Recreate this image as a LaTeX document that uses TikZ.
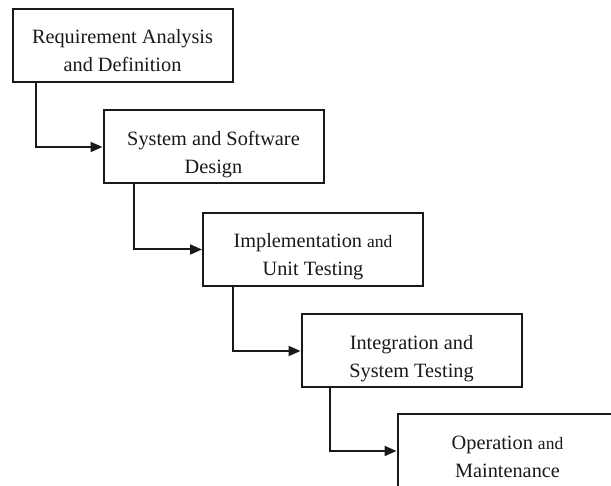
\documentclass[tikz,border=0pt]{standalone}
\usepackage{fontspec}
\setmainfont{Liberation Serif}
\usetikzlibrary{arrows.meta}
\begin{document}
\begin{tikzpicture}[x=1pt,y=-1pt,
  phase/.style={draw=black!90,line width=2pt,fill=white,
    minimum width=220pt,minimum height=73pt,inner sep=0pt,
    text=black!90,
    font=\fontsize{20.3}{28}\selectfont},
  flow/.style={draw=black!90,line width=2pt,
    -{Triangle[length=12pt,width=10pt]}}]
\useasboundingbox (0,0) rectangle (611,486);
\clip (0,0) rectangle (611,486);
\fill[white] (0,0) rectangle (611,486);

\newcommand{\smalland}{{\fontsize{17.5}{28}\selectfont and}}
% two centred lines, sitting a little below the middle of the box
\newcommand{\twolines}[2]{\raisebox{-12pt}[0pt][0pt]{\begin{tabular}{@{}c@{}}#1\\#2\end{tabular}}}

\node[phase] (b1) at (122.5,45.5) {\twolines{Requirement Analysis}{and Definition}};
\node[phase] (b2) at (213.5,147) {\twolines{System and Software}{Design}};
\node[phase] (b3) at (313,249.5) {\twolines{Implementation \smalland}{Unit Testing}};
\node[phase] (b4) at (411.5,351) {\twolines{Integration and}{System Testing}};
\node[phase] (b5) at (507.5,451) {\twolines{Operation \smalland}{Maintenance}};

\draw[flow] ([xshift=24pt]b1.south west) |- (b2.west);
\draw[flow] ([xshift=31pt]b2.south west) |- (b3.west);
\draw[flow] ([xshift=31pt]b3.south west) |- (b4.west);
\draw[flow] ([xshift=29pt]b4.south west) |- (b5.west);
\end{tikzpicture}
\end{document}
